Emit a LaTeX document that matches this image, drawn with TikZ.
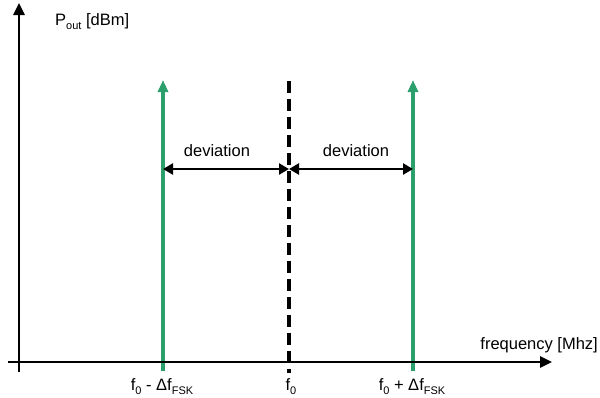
\documentclass[tikz,border=0pt]{standalone}
\usepackage{fontspec}
\setmainfont{Liberation Sans}
\usetikzlibrary{arrows.meta}
\definecolor{sigGreen}{RGB}{44,160,108}
\newcommand{\sbs}[1]{\raisebox{-0.28em}{\fontsize{11}{11}\selectfont #1}}
\begin{document}
\begin{tikzpicture}[x=1pt,y=-1pt,
  lbl/.style={inner sep=0pt,font=\fontsize{16.5}{18}\selectfont},
  axisline/.style={line width=2.6pt,-{Triangle[length=12pt,width=11pt]}},
  sigline/.style={sigGreen,line width=3.2pt,-{Triangle[length=12pt,width=10pt]}},
  devarrow/.style={line width=2.6pt,{Triangle[length=10pt,width=11pt]}-{Triangle[length=10pt,width=11pt]}},
  centerline/.style={line width=3.6pt,dash pattern=on 12pt off 6pt,dash phase=0pt}]
\useasboundingbox (0,0) rectangle (600,397);
% coordinates
\coordinate (yb) at (19,372);
\coordinate (yt) at (19,3);
\coordinate (xl) at (8,362);
\coordinate (xr) at (552,362);
\coordinate (g1b) at (163,371);
\coordinate (g1t) at (163,80);
\coordinate (g2b) at (413,371);
\coordinate (g2t) at (413,80);
\coordinate (dt) at (289,81);
\coordinate (db) at (289,373);
\coordinate (a1) at (163,169);
\coordinate (a0) at (289,169);
\coordinate (a2) at (413,169);
% green signal lines
\draw[sigline] (g1b) -- (g1t);
\draw[sigline] (g2b) -- (g2t);
% dashed centre
\draw[centerline] (dt) -- (db);
% axes
\draw[axisline] (yb) -- (yt);
\draw[axisline] (xl) -- (xr);
% deviation arrows
\draw[devarrow] (a1) -- (a0);
\draw[devarrow] (a0) -- (a2);
% labels
\node[lbl,anchor=base west] (ylab) at (55,25) {P\sbs{out} [dBm]};
\node[lbl,anchor=base east] (xlab) at (598,349) {frequency [Mhz]};
\node[lbl,anchor=base] (dev1) at (217,156) {deviation};
\node[lbl,anchor=base] (dev2) at (356,156) {deviation};
\node[lbl,anchor=base] (t1) at (162,390) {f\sbs{0} - Δf\sbs{FSK}};
\node[lbl,anchor=base] (t0) at (291,390) {f\sbs{0}};
\node[lbl,anchor=base] (t2) at (412,390) {f\sbs{0} + Δf\sbs{FSK}};
\end{tikzpicture}
\end{document}
